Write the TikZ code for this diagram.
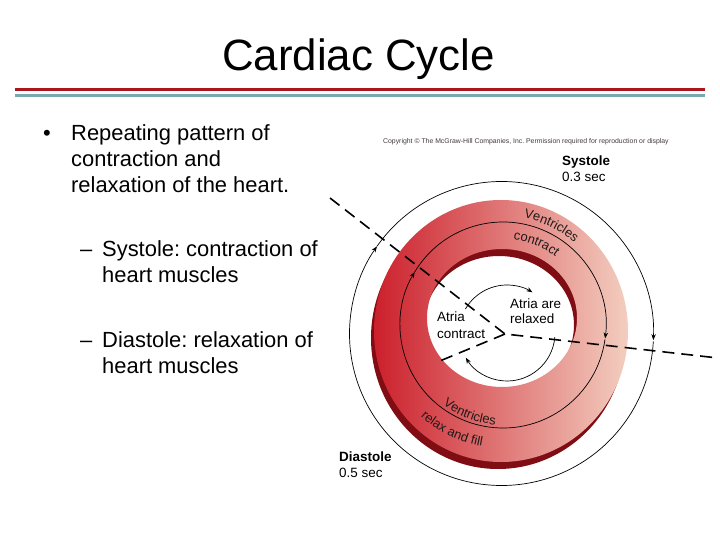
\documentclass[tikz,border=0pt]{standalone}
\usepackage{fontspec}
\setmainfont{Liberation Sans}
\usetikzlibrary{arrows.meta,decorations.text}
\definecolor{rulered}{RGB}{170,22,32}
\definecolor{ruleteal}{RGB}{122,168,176}
\definecolor{wallred}{RGB}{204,32,44}
\definecolor{wallmid}{RGB}{216,78,78}
\definecolor{wallpink}{RGB}{243,206,192}
\definecolor{walldark}{RGB}{128,12,20}
\definecolor{ink}{RGB}{35,25,25}
\newcommand\titlesize{\fontsize{44}{50}\selectfont}
\newcommand\bodysize{\fontsize{22}{26}\selectfont}
\newcommand\figsize{\fontsize{13.5}{16}\selectfont}
\newcommand\wallsize{\fontsize{13}{16}\selectfont}
\newcommand\finesize{\fontsize{6.9}{8}\selectfont}
\frenchspacing
\tikzset{
  >={Stealth[length=6bp,width=4.5bp]},
  txt/.style={inner sep=0pt,anchor=base west,font=#1},
  txt/.default=\bodysize,
  slide rule/.style={draw=#1,line width=3bp},
  phase cut/.style={draw=black,line width=1.6bp,dash pattern=on 12bp off 7bp},
  turn arc/.style={draw=black,line width=0.7bp},
  ring text/.style={decorate,decoration={text along path,text color=ink,
    text={|\wallsize|#1}}},
}

\begin{document}
\begin{tikzpicture}[x=1bp,y=1bp]
  \fill[white] (0,0) rectangle (720,-540);
  % title and rules
  \node[txt=\titlesize,anchor=base] (title) at (358.5,-71) {Cardiac Cycle};
  \coordinate (ruleL) at (15,-90);
  \coordinate (ruleR) at (705,-90);
  \draw[slide rule=rulered] (ruleL) -- (ruleR);
  \draw[slide rule=ruleteal] ([yshift=-6bp]ruleL) -- ([yshift=-6bp]ruleR);

  % bullet text
  \node[txt] (dot) at (43,-141) {•};
  \node[txt] (l1) at (71,-141) {Repeating pattern of};
  \node[txt] (l2) at (71,-167) {contraction and};
  \node[txt] (l3) at (71,-193) {relaxation of the heart.};
  \node[txt] (d1) at (80,-257) {--};
  \node[txt] (s1) at (102,-257) {Systole: contraction of};
  \node[txt] (s2) at (102,-283) {heart muscles};
  \node[txt] (d2) at (80,-347) {--};
  \node[txt] (s3) at (102,-347) {Diastole: relaxation of};
  \node[txt] (s4) at (102,-373) {heart muscles};

  % cycle figure
  \node[txt=\finesize,text=ink!85] (copy) at (383,-143.5)
    {Copyright \textcopyright{} The McGraw-Hill Companies, Inc. Permission required for reproduction or display};
  \coordinate (ring) at (501,-331);
  \coordinate (hole) at (502,-318);
  \coordinate (outer) at (501.5,-333.5);
  \coordinate (vent) at (503,-325);
  \coordinate (atria) at (507,-333);
  \fill[walldark,even odd rule] ([shift={(-3,-7)}]ring) ellipse [x radius=127,y radius=131]
    ([shift={(-3,-7)}]hole) ellipse [x radius=75,y radius=69];
  \shade[left color=wallred,middle color=wallmid,right color=wallpink,even odd rule]
    (ring) ellipse [x radius=127,y radius=131] (hole) ellipse [x radius=75,y radius=69];

  \draw[turn arc,->] ([shift={(145:152)}]outer) arc [start angle=145,end angle=-2.5,radius=152];
  \draw[turn arc,->] ([shift={(-3:152)}]outer) arc [start angle=-3,end angle=-215,radius=152];
  \draw[turn arc,->] ([shift={(149:103)}]vent) arc [start angle=149,end angle=-7.5,radius=103];
  \draw[turn arc,->] ([shift={(-8:103)}]vent) arc [start angle=-8,end angle=-211,radius=103];
  \draw[turn arc,->] ([shift={(150:48)}]atria) arc [start angle=150,end angle=58,radius=48];
  \draw[turn arc,->] ([shift={(-5:48)}]atria) arc [start angle=-5,end angle=-149,radius=48];

  \coordinate (cutA) at (330,-198);
  \coordinate (cutV) at (505,-334);
  \coordinate (cutB) at (718,-358);
  \coordinate (cutC) at (435,-363);
  \draw[phase cut] (cutA) -- (cutV) -- (cutB);
  \draw[phase cut] (cutV) -- (cutC);

  \path[ring text=Ventricles] ([shift={(79:109)}]vent) arc [start angle=79,end angle=35,radius=109];
  \path[ring text=contract] ([shift={(83:86)}]vent) arc [start angle=83,end angle=40,radius=86];
  \path[ring text=Ventricles] ([shift={(233:100)}]vent) arc [start angle=233,end angle=277,radius=100];
  \path[ring text=relax and fill] ([shift={(228:123)}]vent) arc [start angle=228,end angle=270,radius=123];

  \node[txt=\figsize\bfseries] (sys) at (562,-165.5) {Systole};
  \node[txt=\figsize] (systime) at (562,-181.5) {0.3 sec};
  \node[txt=\figsize\bfseries] (dia) at (339,-461) {Diastole};
  \node[txt=\figsize] (diatime) at (339,-477) {0.5 sec};
  \node[txt=\figsize] (atc1) at (437,-321.7) {Atria};
  \node[txt=\figsize] (atc2) at (437,-338) {contract};
  \node[txt=\figsize] (atr1) at (510,-308) {Atria are};
  \node[txt=\figsize] (atr2) at (510,-323.3) {relaxed};
\end{tikzpicture}
\end{document}
